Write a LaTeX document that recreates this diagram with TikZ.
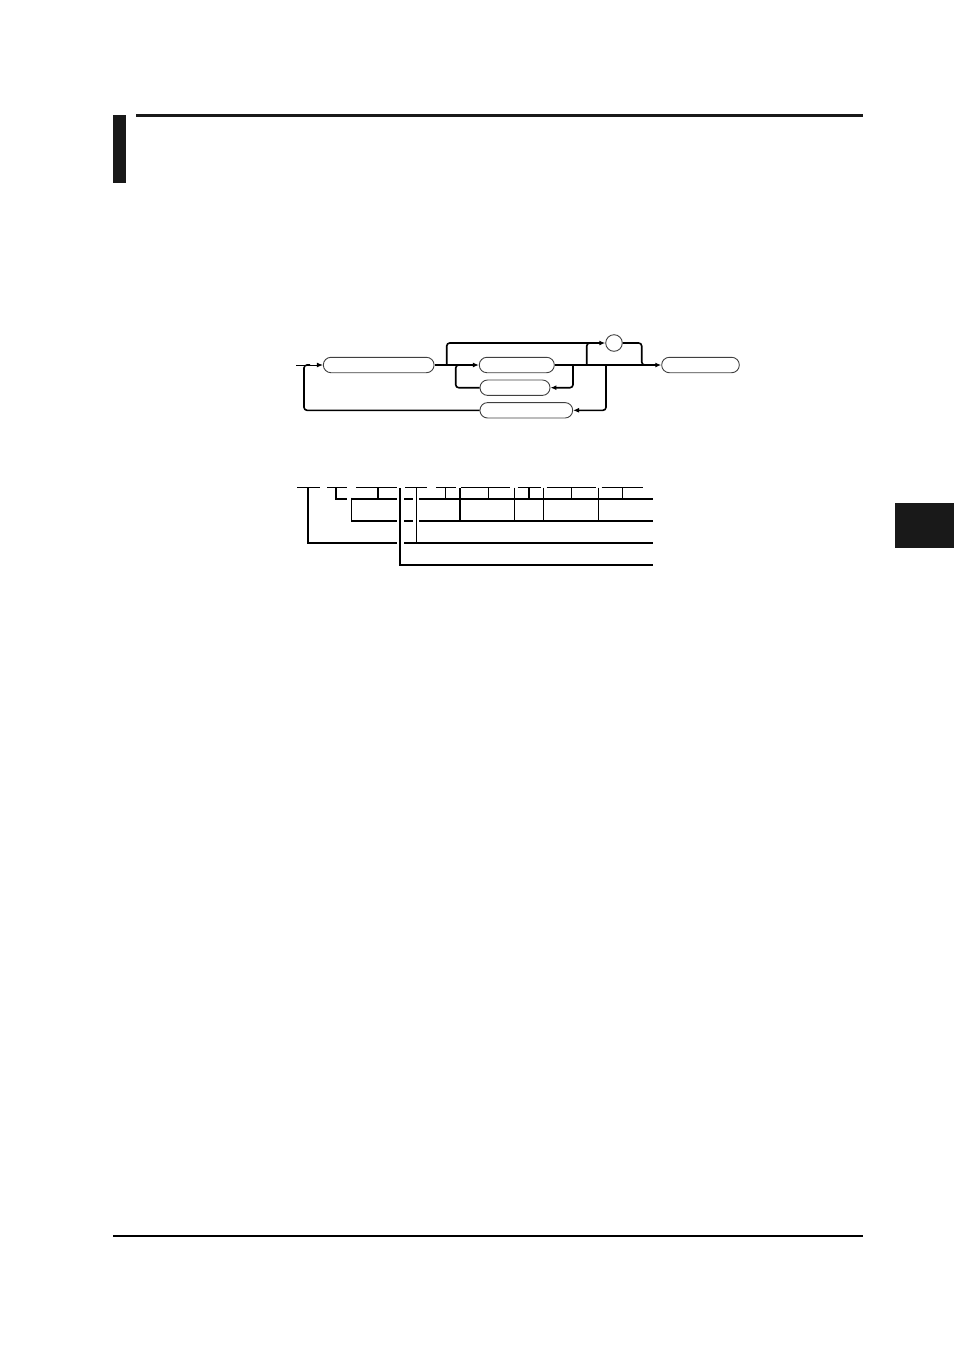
\documentclass[tikz,border=0pt]{standalone}
\usetikzlibrary{arrows.meta}
\begin{document}
\begin{tikzpicture}[x=1pt,y=-1pt,
  pill/.style={draw=black!75,line width=0.9pt,rounded corners=7.6pt,minimum height=15.4pt,inner sep=0pt},
  ring/.style={draw=black!75,line width=0.9pt,circle,minimum size=16.6pt,inner sep=0pt},
  flow/.style={line width=1.6pt,rounded corners=3pt},
  tip/.style={-{Latex[length=6pt,width=5pt]}},
  tree/.style={line width=1.3pt,line cap=butt},
  blk/.style={fill=black!90!white,draw=none}]
\useasboundingbox (0,0) rectangle (954,1350);
% page decoration
\fill[blk] (113,115) rectangle (126,183);
\fill[blk] (136,114) rectangle (863,117.3);
\fill[blk] (895,503) rectangle (954,548);
\draw[line width=1.3pt] (113,1236) -- (863,1236);
% syntax diagram nodes
\node[pill,minimum width=110.7pt] (b1) at (378.7,365) {};
\node[pill,minimum width=75pt] (b2) at (516.8,365) {};
\node[pill,minimum width=70pt] (b3) at (515,387.7) {};
\node[pill,minimum width=92.7pt] (b5) at (526.3,410.3) {};
\node[pill,minimum width=77.6pt] (b4) at (700.5,365) {};
\node[ring] (c) at (614,343) {};
% junctions
\coordinate (s) at (296,365);
\coordinate (j6) at (304,365);
\coordinate (j0) at (455.7,365);
\coordinate (ja) at (446.7,365);
\coordinate (j1) at (573,365);
\coordinate (j3) at (586.7,365);
\coordinate (j2) at (606,365);
\coordinate (j5) at (641.7,365);
% connectors
\draw[line width=1pt,tip] (s) -- (b1.west);
\draw[flow,tip] (b1.east) -- (b2.west);
\draw[flow,tip] (b2.east) -- (b4.west);
\draw[flow,tip] (ja) |- (c.west);
\draw[flow] (j3) |- ([xshift=-4pt]c.west);
\draw[flow] (c.east) -| (j5) -- ++(5,0);
\draw[flow,tip] (j1) |- (b3.east);
\draw[flow] (b3.west) -| (j0) -- ++(6,0);
\draw[flow,tip] (j2) |- (b5.east);
\draw[flow] (b5.west) -| (j6) -- ++(6,0);
% tree diagram
\def\ra{487.5}\def\rb{499}\def\rc{521}\def\rd{543}\def\re{565}
\draw[tree] (297,\ra) -- (320,\ra);
\draw[tree] (308,\ra) -- (308,\rd) -- (397,\rd);
\draw[tree] (327,\ra) -- (347,\ra);
\draw[tree] (336,\ra) -- (336,\rb) -- (347,\rb);
\draw[tree] (356,\ra) -- (397,\ra);
\draw[tree] (378,\ra) -- (378,\rb);
\draw[tree] (352,\rb) -- (397,\rb);
\draw[tree] (351.3,497.7) -- (351.3,\rc) -- (397,\rc);
\draw[tree] (400,488) -- (400,\re) -- (653,\re);
\draw[tree] (405,\ra) -- (427,\ra);
\draw[tree] (404,\rb) -- (413,\rb);
\draw[tree] (404,\rc) -- (413,\rc);
\draw[tree] (416.3,\ra) -- (416.3,\rd);
\draw[tree] (404,\rd) -- (653,\rd);
\draw[tree] (419.3,\rb) -- (460,\rb);
\draw[tree] (419.3,\rc) -- (653,\rc);
\draw[tree] (436,\ra) -- (456,\ra);
\draw[tree] (445.7,\ra) -- (445.7,\rb);
\draw[tree] (460,\ra) -- (460,\rc);
\draw[tree] (461.3,\ra) -- (510,\ra);
\draw[tree] (488.3,\ra) -- (488.3,\rb);
\draw[tree] (460,\rb) -- (514.3,\rb);
\draw[tree] (514.3,\ra) -- (514.3,\rc);
\draw[tree] (517.7,\ra) -- (540.7,\ra);
\draw[tree] (529,\ra) -- (529,\rb);
\draw[tree] (514.3,\rb) -- (543.7,\rb);
\draw[tree] (543.7,\ra) -- (543.7,\rc);
\draw[tree] (546.7,\ra) -- (596,\ra);
\draw[tree] (571.7,\ra) -- (571.7,\rb);
\draw[tree] (543.7,\rb) -- (598.3,\rb);
\draw[tree] (598.3,\ra) -- (598.3,\rc);
\draw[tree] (601.7,\ra) -- (642.7,\ra);
\draw[tree] (622.7,\ra) -- (622.7,\rb);
\draw[tree] (598.3,\rb) -- (653,\rb);
\end{tikzpicture}
\end{document}
